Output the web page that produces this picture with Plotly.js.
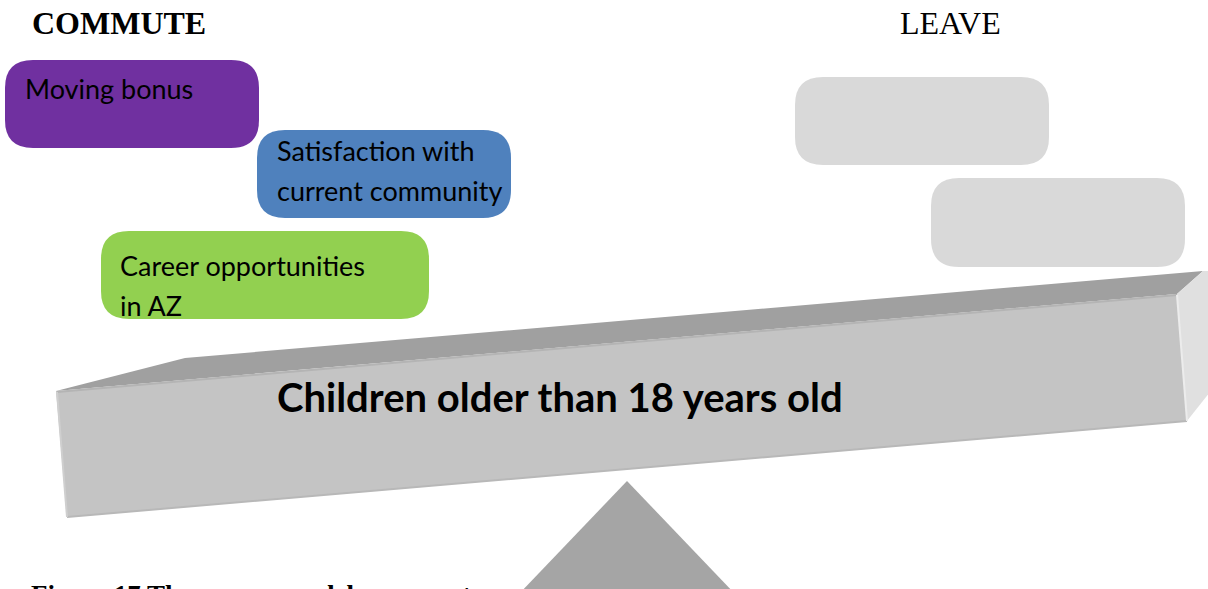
<!DOCTYPE html>
<html>
<head>
<meta charset="utf-8">
<script src="https://cdn.plot.ly/plotly-3.0.1.min.js"></script>
<style>html,body{margin:0;padding:0;background:#ffffff;overflow:hidden}</style>
</head>
<body>
<div id="chart" style="width:1208px;height:589px"></div>
<script>
// ---- content (text only) ----
const sideHeadings = ["COMMUTE", "LEAVE"];
const commuteFactors = [
  ["Moving bonus"],
  ["Satisfaction with", "current community"],
  ["Career opportunities", "in AZ"]
];
const leaveFactors = [[], []];
const beamLabel = "Children older than 18 years old";
const captionText = "Figure 17 The seesaw model - commute";

// ---- layout / style (kept separate from the content) ----
const commuteColors = ["#7030A0", "#4F81BD", "#92D050"];
const leaveColors = ["#D9D9D9", "#D9D9D9"];
const commuteBoxes = [[5, 60, 259, 148], [257, 130, 511, 218], [101, 231, 429, 319]];
const commuteTextPos = [[24, 98], [276, 160], [119, 275]]; // left, first baseline
const leaveBoxes = [[795, 77, 1049, 165], [931, 178, 1185, 267]];
const headingPos = [[31, 33], [899, 33]];
const LINE_GAP = 40;
const BODY_FONT = "Lato, 'Open Sans', sans-serif";
const SERIF_FONT = "'Liberation Serif', 'DejaVu Serif', serif";

function roundRect(b, r) {
  const [x0, y0, x1, y1] = b;
  return `M${x0 + r},${y0} L${x1 - r},${y0} Q${x1},${y0} ${x1},${y0 + r} ` +
         `L${x1},${y1 - r} Q${x1},${y1} ${x1 - r},${y1} L${x0 + r},${y1} ` +
         `Q${x0},${y1} ${x0},${y1 - r} L${x0},${y0 + r} Q${x0},${y0} ${x0 + r},${y0} Z`;
}
function poly(pts) {
  return "M" + pts.map(p => p[0] + "," + p[1]).join(" L") + " Z";
}

const shapes = [];
const annotations = [];

// factor boxes
commuteBoxes.forEach((b, i) => {
  shapes.push({type: "path", xref: "x", yref: "y", path: roundRect(b, 28),
               fillcolor: commuteColors[i], line: {width: 0}, layer: "above"});
});
leaveBoxes.forEach((b, i) => {
  shapes.push({type: "path", xref: "x", yref: "y", path: roundRect(b, 28),
               fillcolor: leaveColors[i], line: {width: 0}, layer: "above"});
});

// beam (3D bar)
const beamTop = [[56, 391], [185, 358], [1203, 271], [1177, 294]];
const beamFront = [[56, 391], [1177, 294], [1187, 421], [67, 517]];
const beamSide = [[1177, 294], [1203, 271], [1210, 271], [1210, 392], [1187, 421]];
shapes.push({type: "path", xref: "x", yref: "y", path: poly(beamTop), fillcolor: "#A0A0A0", line: {width: 0}, layer: "above"});
shapes.push({type: "path", xref: "x", yref: "y", path: poly(beamFront), fillcolor: "#C4C4C4", line: {width: 0}, layer: "above"});
shapes.push({type: "path", xref: "x", yref: "y", path: poly(beamSide), fillcolor: "#E0E0E0", line: {width: 0}, layer: "above"});
// subtle edges
shapes.push({type: "line", xref: "x", yref: "y", x0: 57, y0: 392, x1: 1177, y1: 295, line: {color: "#B4B4B4", width: 2}, layer: "above"});
shapes.push({type: "line", xref: "x", yref: "y", x0: 67, y0: 517, x1: 1187, y1: 421, line: {color: "#B8B8B8", width: 2}, layer: "above"});
shapes.push({type: "line", xref: "x", yref: "y", x0: 57, y0: 392, x1: 67, y1: 517, line: {color: "#CFCFCF", width: 2}, layer: "above"});
shapes.push({type: "line", xref: "x", yref: "y", x0: 1177, y0: 295, x1: 1187, y1: 421, line: {color: "#ECECEC", width: 2}, layer: "above"});

// fulcrum
shapes.push({type: "path", xref: "x", yref: "y", path: poly([[627, 481], [518, 595], [736, 595]]),
             fillcolor: "#A5A5A5", line: {width: 0}, layer: "above"});

function addText(text, x, baseline, size, family, bold, ascent) {
  // anchor at the top of the line box: baseline minus font ascent
  const top = baseline - size * ascent;
  annotations.push({
    text: bold ? "<b>" + text + "</b>" : text,
    x: x, y: top, xref: "x", yref: "y",
    xanchor: "left", yanchor: "top", showarrow: false, borderpad: 0,
    font: {family: family, size: size, color: "#000000"}
  });
}

sideHeadings.forEach((h, i) => {
  addText(h, headingPos[i][0], headingPos[i][1], 32, SERIF_FONT, i === 0, 0.891);
});
commuteFactors.forEach((lines, i) => {
  lines.forEach((ln, j) => {
    addText(ln, commuteTextPos[i][0], commuteTextPos[i][1] + j * LINE_GAP, 27, BODY_FONT, false, 0.987);
  });
});
addText(beamLabel, 276, 411, 40, BODY_FONT, true, 0.987);
addText(captionText, 30, 603, 27, SERIF_FONT, true, 0.891);

const layout = {
  width: 1208, height: 589,
  margin: {l: 0, r: 0, t: 0, b: 0, pad: 0},
  paper_bgcolor: "#ffffff", plot_bgcolor: "#ffffff",
  xaxis: {range: [0, 1208], visible: false, fixedrange: true},
  yaxis: {range: [589, 0], visible: false, fixedrange: true},
  showlegend: false,
  shapes: shapes,
  annotations: annotations
};

Plotly.newPlot("chart", [], layout, {staticPlot: true, displayModeBar: false});
</script>
</body>
</html>
